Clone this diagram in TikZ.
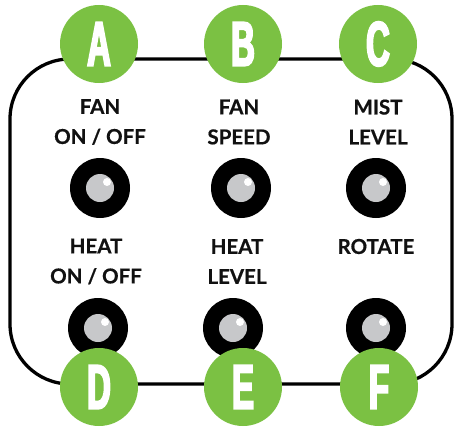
\documentclass[tikz,border=0pt]{standalone}
\usepackage{fontspec}
\newfontfamily\lblfont{Lato}[BoldFeatures={FakeBold=0.6}]
\newfontfamily\letterfont{Liberation Sans}[FakeStretch=0.52, BoldFeatures={FakeBold=3}]
\definecolor{lgreen}{HTML}{7BC143}
\definecolor{kgrey}{HTML}{C7C8CA}
\definecolor{ink}{HTML}{111111}
\tikzset{
  panel/.style={draw=black, line width=3.3pt, rounded corners=60pt},
  letter/.style={circle, fill=lgreen, minimum size=78pt, inner sep=0pt, text=white,
    font=\fontsize{63}{63}\letterfont\bfseries},
  lbl/.style={align=center, inner sep=0pt, text=ink, font=\fontsize{20.5}{30}\lblfont\bfseries},
  knob/.style={circle, fill=black, minimum size=60pt, inner sep=0pt},
  knobcap/.style={circle, fill=kgrey, minimum size=28pt, inner sep=0pt},
  shine/.style={circle, fill=white, minimum size=8pt, inner sep=0pt}
}
\begin{document}
\begin{tikzpicture}[x=1pt, y=-1pt]
\useasboundingbox (0,0) rectangle (454,428);
% panel outline
\draw[panel] (10,59) rectangle (452,384);
% labels
\node[lbl] (tA) at (100,122) {FAN\\ON / OFF};
\node[lbl] (tB) at (239,122) {FAN\\SPEED};
\node[lbl] (tC) at (378,122) {MIST\\LEVEL};
\node[lbl] (tD) at (96,261.5) {HEAT\\ON / OFF};
\node[lbl] (tE) at (237,261.5) {HEAT\\LEVEL};
\node[lbl] (tF) at (376,246.5) {ROTATE};
% knobs
\foreach \n/\x/\y in {kA/100/188, kB/241/188, kC/376/188, kD/98/328, kE/233/328, kF/376/328}{
  \node[knob] (\n) at (\x,\y) {};
  \node[knobcap] (\n c) at (\n) {};
  \node[shine] (\n s) at ([xshift=7pt,yshift=6pt]\n.center) {};
}
% letter badges
\node[letter] (A) at (99,44) {A};
\node[letter] (B) at (243,44) {B};
\node[letter] (C) at (378,44) {C};
\node[letter] (D) at (99,387) {D};
\node[letter] (E) at (243,387) {E};
\node[letter] (F) at (379,387) {F};
\end{tikzpicture}
\end{document}
